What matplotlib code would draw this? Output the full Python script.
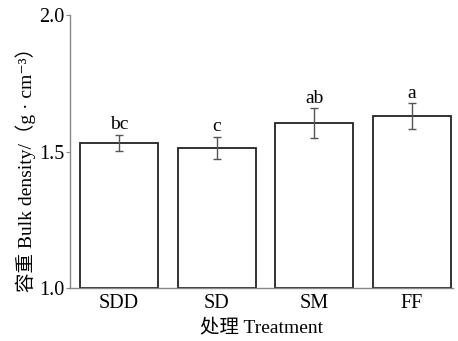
import numpy as np
import matplotlib.pyplot as plt

plt.rcParams['font.family'] = ['Liberation Serif', 'Noto Sans CJK SC', 'DejaVu Serif']

treatments = ["SDD", "SD", "SM", "FF"]
density = [1.531, 1.513, 1.604, 1.630]
err = [0.030, 0.040, 0.055, 0.047]
letters = ["bc", "c", "ab", "a"]

fig = plt.figure(figsize=(4.58, 3.41), dpi=100)
ax = fig.add_axes([0.153, 0.155, 0.836, 0.801])

x = np.arange(len(treatments))
ax.bar(x, np.array(density) - 1.0, bottom=1.0, width=0.8, color="white",
       edgecolor="#222222", linewidth=1.3, zorder=2)
ax.errorbar(x, density, yerr=err, fmt="none", ecolor="#555555",
            elinewidth=1.0, capsize=3, capthick=1.0, zorder=3)
for xi, d, e, lab in zip(x, density, err, letters):
    ax.text(xi, d + e + 0.006, lab, ha="center", va="bottom", fontsize=14)

ax.set_xlim(-0.5, 3.42)
ax.set_ylim(1.0, 2.0)
ax.set_yticks([1.0, 1.5, 2.0])
ax.set_yticklabels(["1.0", "1.5", "2.0"])
ax.set_xticks(x)
ax.set_xticklabels(treatments)

for s in ["top", "right"]:
    ax.spines[s].set_visible(False)
for s in ["left", "bottom"]:
    ax.spines[s].set_color("#888888")
    ax.spines[s].set_linewidth(1.0)

ax.tick_params(axis="y", direction="out", length=3, color="#888888",
               labelsize=14.5, pad=1)
ax.tick_params(axis="x", direction="in", length=3, color="#888888",
               labelsize=14.5, pad=4)

ax.set_xlabel("处理 Treatment", fontsize=14, labelpad=4)
ax.set_ylabel("容重 Bulk density/（g · cm⁻³）", fontsize=14)
ax.yaxis.set_label_coords(-0.09, 0.45)

fig.savefig("out.png", dpi=100)
